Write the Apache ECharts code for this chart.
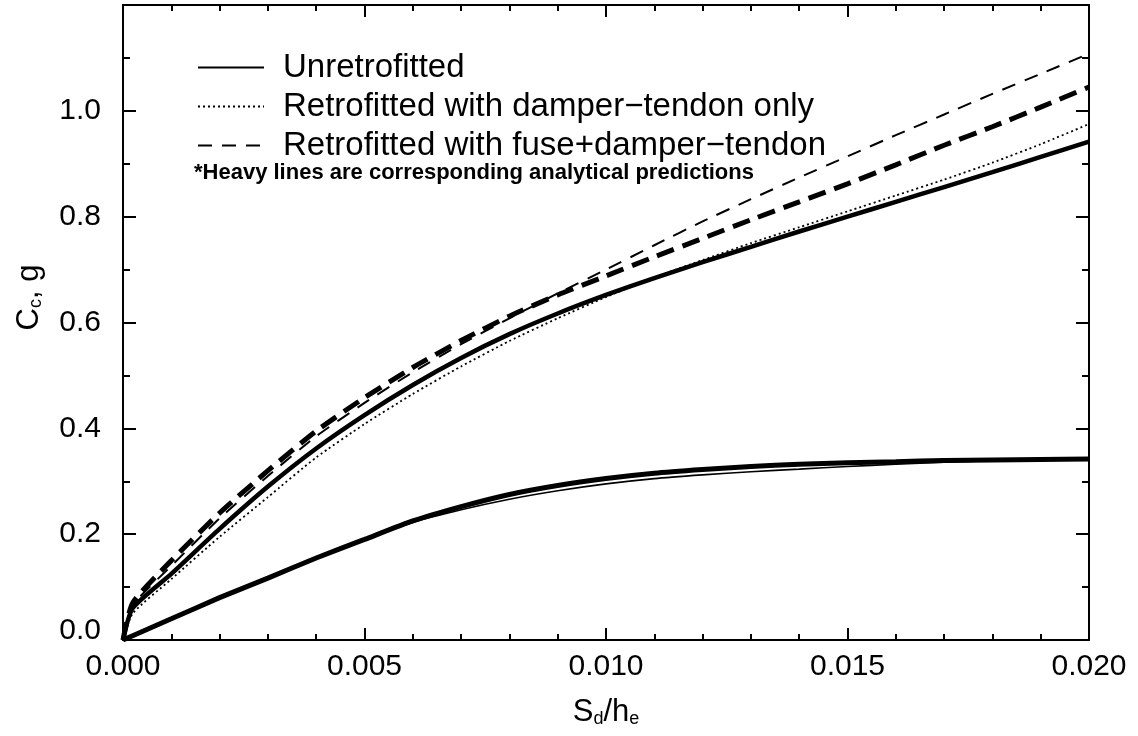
<!DOCTYPE html>
<html>
<head>
<meta charset="utf-8">
<script src="https://cdn.jsdelivr.net/npm/echarts@6/dist/echarts.min.js"></script>
<style>html,body{margin:0;padding:0;background:#fff}#c{width:1138px;height:736px}</style>
</head>
<body>
<div id="c"></div>
<script>
// x values (S_d/h_e)
const xs = [0, 0.0002, 0.001, 0.002, 0.003, 0.004, 0.005, 0.006, 0.007, 0.008, 0.009, 0.010, 0.011, 0.012, 0.013, 0.014, 0.015, 0.016, 0.017, 0.018, 0.019, 0.020];
// Unretrofitted
const unretroExp  = [0, 0.008, 0.04, 0.08, 0.117, 0.155, 0.19, 0.222, 0.246, 0.266, 0.282, 0.295, 0.305, 0.312, 0.318, 0.323, 0.328, 0.332, 0.336, 0.339, 0.341, 0.343];
const unretroAna  = [0, 0.008, 0.04, 0.08, 0.117, 0.155, 0.19, 0.225, 0.252, 0.275, 0.292, 0.305, 0.315, 0.322, 0.328, 0.332, 0.335, 0.337, 0.339, 0.340, 0.341, 0.342];
// Retrofitted with damper-tendon only
const damperExp   = [0, 0.05, 0.115, 0.195, 0.27, 0.345, 0.408, 0.465, 0.517, 0.565, 0.608, 0.648, 0.685, 0.718, 0.75, 0.78, 0.81, 0.84, 0.87, 0.902, 0.937, 0.975];
const damperAna   = [0, 0.06, 0.125, 0.21, 0.29, 0.362, 0.425, 0.482, 0.533, 0.578, 0.617, 0.652, 0.684, 0.714, 0.743, 0.772, 0.80, 0.828, 0.856, 0.884, 0.913, 0.942];
// Retrofitted with fuse+damper-tendon
const fuseExp     = [0, 0.065, 0.14, 0.23, 0.31, 0.385, 0.448, 0.506, 0.559, 0.608, 0.655, 0.70, 0.746, 0.791, 0.833, 0.874, 0.914, 0.954, 0.993, 1.032, 1.07, 1.108];
const fuseAna     = [0, 0.07, 0.15, 0.24, 0.32, 0.395, 0.458, 0.515, 0.566, 0.612, 0.652, 0.688, 0.724, 0.759, 0.794, 0.828, 0.862, 0.898, 0.935, 0.97, 1.007, 1.045];

const legendNames = ['Unretrofitted', 'Retrofitted with damper\u2212tendon only', 'Retrofitted with fuse+damper\u2212tendon'];
const note = '*Heavy lines are corresponding analytical predictions';

const pairs = a => xs.map((x, i) => [x, a[i]]);
const FONT = '"Liberation Sans", Arial, Helvetica, sans-serif';

function ser(name, data, width, type) {
  return {
    name: name, type: 'line', data: pairs(data), showSymbol: false, symbol: 'none',
    smooth: 0.2, animation: false,
    lineStyle: { color: '#000', width: width, type: type, cap: 'butt' },
    itemStyle: { color: '#000' },
    z: 3
  };
}

const axisCommonX = {
  type: 'value', min: 0, max: 0.02, interval: 0.005,
  axisLine: { show: true, onZero: false, lineStyle: { color: '#000', width: 2 } },
  axisTick: { show: true, inside: true, length: 12, lineStyle: { color: '#000', width: 2 } },
  minorTick: { show: true, splitNumber: 5, length: 6, lineStyle: { color: '#000', width: 2 } },
  splitLine: { show: false }, minorSplitLine: { show: false }
};
const axisCommonY = {
  type: 'value', min: 0, max: 1.2, interval: 0.2,
  axisLine: { show: true, onZero: false, lineStyle: { color: '#000', width: 2 } },
  axisTick: { show: true, inside: true, length: 13, lineStyle: { color: '#000', width: 2 } },
  minorTick: { show: true, splitNumber: 2, length: 7, lineStyle: { color: '#000', width: 2 } },
  splitLine: { show: false }, minorSplitLine: { show: false }
};

const chart = echarts.init(document.getElementById('c'), null, { renderer: 'canvas' });
chart.setOption({
  backgroundColor: '#fff',
  animation: false,
  textStyle: { fontFamily: FONT, color: '#000' },
  grid: { left: 123, right: 49, top: 5, bottom: 96, containLabel: false },
  title: {
    text: note, left: 194, top: 162, padding: 0,
    textStyle: { fontFamily: FONT, fontSize: 22, fontWeight: 'bold', color: '#000' }
  },
  legend: {
    data: legendNames, orient: 'vertical', left: 197, top: 51, padding: 0,
    itemWidth: 66, itemHeight: 14, itemGap: 6,
    itemStyle: { opacity: 0 },
    textStyle: { fontFamily: FONT, fontSize: 33, color: '#000', padding: [0, 0, 0, 14] },
    selectedMode: false
  },
  xAxis: [
    Object.assign({}, axisCommonX, {
      position: 'bottom',
      name: '{m|S}{s|d}{m|/h}{s|e}', nameLocation: 'middle', nameGap: 56,
      nameTextStyle: { rich: {
        m: { fontFamily: FONT, fontSize: 31, color: '#000' },
        s: { fontFamily: FONT, fontSize: 18, color: '#000', verticalAlign: 'bottom', padding: [14, 0, 0, 0] }
      } },
      axisLabel: { show: true, margin: 12, fontFamily: FONT, fontSize: 30, color: '#000',
        formatter: v => v.toFixed(3) }
    }),
    Object.assign({}, axisCommonX, {
      position: 'top', axisLabel: { show: false }
    })
  ],
  yAxis: [
    Object.assign({}, axisCommonY, {
      position: 'left',
      name: '{m|C}{s|c}{m|, g}', nameLocation: 'middle', nameGap: 78, nameRotate: 90,
      nameTextStyle: { padding: [0, 0, 0, 50], rich: {
        m: { fontFamily: FONT, fontSize: 31, color: '#000' },
        s: { fontFamily: FONT, fontSize: 18, color: '#000', padding: [14, 0, 0, 0] }
      } },
      axisLabel: { show: true, margin: 22, fontFamily: FONT, fontSize: 30, color: '#000',
        formatter: v => (v > 1.1 ? '' : (v === 0 ? '{z|0.0}' : v.toFixed(1))),
        rich: { z: { fontFamily: FONT, fontSize: 30, color: '#000', padding: [0, 0, 18, 0] } } }
    }),
    Object.assign({}, axisCommonY, {
      position: 'right', axisLabel: { show: false }
    })
  ],
  series: [
    ser(legendNames[0], unretroExp, 1.6, 'solid'),
    ser('Unretrofitted (analytical)', unretroAna, 5, 'solid'),
    ser(legendNames[1], damperExp, 1.8, [2, 3]),
    ser('Damper-tendon (analytical)', damperAna, 4.5, 'solid'),
    ser(legendNames[2], fuseExp, 2, [14, 10]),
    ser('Fuse+damper-tendon (analytical)', fuseAna, 5, [18, 9])
  ]
});
</script>
</body>
</html>
